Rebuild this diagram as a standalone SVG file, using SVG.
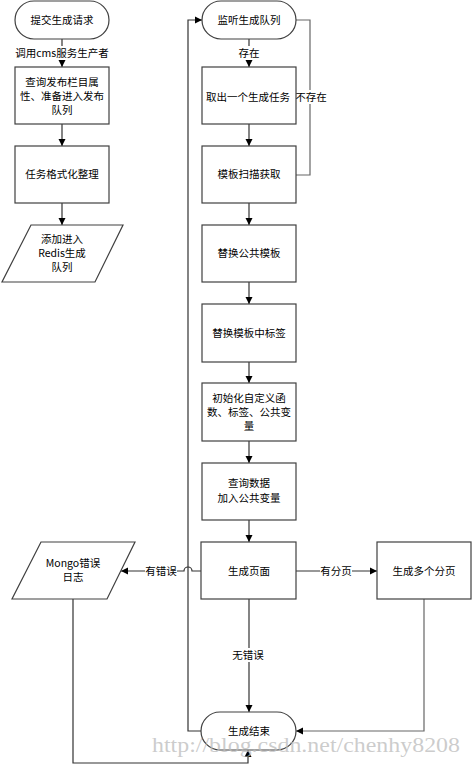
<svg xmlns="http://www.w3.org/2000/svg" width="472" height="765" viewBox="0 0 472 765">
<style>
.n{fill:#fff;stroke:#404040;stroke-width:1.2}
.t{font-family:"Noto Sans CJK SC","Liberation Sans",sans-serif;font-size:10.5px;fill:#000;text-anchor:middle}
.c{fill:none;stroke:#333;stroke-width:1.2}
.g{stroke:#666}
.lb{fill:#fff}
</style>
<defs>
<marker id="a" markerUnits="userSpaceOnUse" markerWidth="8" markerHeight="8" refX="7" refY="4" orient="auto">
<path d="M0,0.5 L7,4 L0,7.5 z" fill="#000"/>
</marker>
</defs>
<rect width="472" height="765" fill="#fff"/>
<g id="connectors">
<path class="c" d="M62,39 V67" marker-end="url(#a)"/>
<path class="c" d="M62,124 V146" marker-end="url(#a)"/>
<path class="c" d="M62,203 V225" marker-end="url(#a)"/>
<path class="c" d="M249,39 V67" marker-end="url(#a)"/>
<path class="c" d="M249,124 V146" marker-end="url(#a)"/>
<path class="c g" d="M296,175 H310 V20 H296"/>
<path class="c" d="M249,203 V225" marker-end="url(#a)"/>
<path class="c" d="M249,282 V304" marker-end="url(#a)"/>
<path class="c" d="M249,362 V383" marker-end="url(#a)"/>
<path class="c" d="M249,441 V463" marker-end="url(#a)"/>
<path class="c" d="M249,520 V542" marker-end="url(#a)"/>
<path class="c" d="M249,599 V712" marker-end="url(#a)"/>
<path class="c" d="M201,731 H188 V20 H202" marker-end="url(#a)"/>
<path class="c" d="M201,571 H192 A4,4 0 0 0 184,571 H121" marker-end="url(#a)"/>
<path class="c" d="M296,571 H377" marker-end="url(#a)"/>
<path class="c" d="M73,599 V763 H248 V750" marker-end="url(#a)"/>
<path class="c g" d="M424,599 V731 H296" marker-end="url(#a)"/>
<rect class="lb" x="18" y="46" width="88" height="14"/>
<text class="t" x="62" y="57">调用cms服务生产者</text>
<rect class="lb" x="238" y="46" width="22" height="14"/>
<text class="t" x="249" y="57">存在</text>
<rect class="lb" x="295" y="90" width="32" height="14"/>
<text class="t" x="311" y="101">不存在</text>
<rect class="lb" x="145" y="564" width="32" height="14"/>
<text class="t" x="161" y="575">有错误</text>
<rect class="lb" x="320" y="564" width="32" height="14"/>
<text class="t" x="336" y="575">有分页</text>
<rect class="lb" x="232" y="648" width="32" height="14"/>
<text class="t" x="248" y="659">无错误</text>
</g>
<g id="n1"><rect class="n" x="15" y="1" width="94" height="38" rx="19"/><text class="t" x="62" y="24">提交生成请求</text></g>
<g id="n2"><rect class="n" x="15" y="67" width="94" height="57"/><text class="t" x="62" y="86">查询发布栏目属</text><text class="t" x="62" y="100">性、准备进入发布</text><text class="t" x="62" y="114">队列</text></g>
<g id="n3"><rect class="n" x="15" y="146" width="94" height="57"/><text class="t" x="62" y="178">任务格式化整理</text></g>
<g id="n4"><path class="n" d="M31,225 H123 L95,282 H2 Z"/><text class="t" x="62" y="243">添加进入</text><text class="t" x="62" y="257">Redis生成</text><text class="t" x="62" y="271">队列</text></g>
<g id="m1"><rect class="n" x="202" y="1" width="94" height="38" rx="19"/><text class="t" x="249" y="24">监听生成队列</text></g>
<g id="m2"><rect class="n" x="202" y="67" width="94" height="57"/><text class="t" x="248" y="101">取出一个生成任务</text></g>
<g id="m3"><rect class="n" x="202" y="146" width="94" height="57"/><text class="t" x="249" y="178">模板扫描获取</text></g>
<g id="m4"><rect class="n" x="202" y="225" width="94" height="57"/><text class="t" x="249" y="257">替换公共模板</text></g>
<g id="m5"><rect class="n" x="202" y="304" width="94" height="58"/><text class="t" x="249" y="337">替换模板中标签</text></g>
<g id="m6"><rect class="n" x="202" y="383" width="94" height="58"/><text class="t" x="249" y="402">初始化自定义函</text><text class="t" x="249" y="416">数、标签、公共变</text><text class="t" x="249" y="430">量</text></g>
<g id="m7"><rect class="n" x="202" y="463" width="94" height="57"/><text class="t" x="249" y="487">查询数据</text><text class="t" x="249" y="502">加入公共变量</text></g>
<g id="m8"><rect class="n" x="201" y="542" width="95" height="57"/><text class="t" x="249" y="575">生成页面</text></g>
<g id="m9"><rect class="n" x="201" y="712" width="95" height="38" rx="19"/><text class="t" x="249" y="735">生成结束</text></g>
<g id="e1"><path class="n" d="M41,542 H135 L107,599 H12 Z"/><text class="t" x="73" y="567">Mongo错误</text><text class="t" x="73" y="581">日志</text></g>
<g id="p1"><rect class="n" x="377" y="542" width="94" height="57"/><text class="t" x="424" y="575">生成多个分页</text></g>
<text x="152" y="752" font-family="Liberation Serif,serif" font-size="22" fill="#bbb" fill-opacity="0.75" textLength="308" lengthAdjust="spacingAndGlyphs">http://blog.csdn.net/chenhy8208</text>
</svg>
